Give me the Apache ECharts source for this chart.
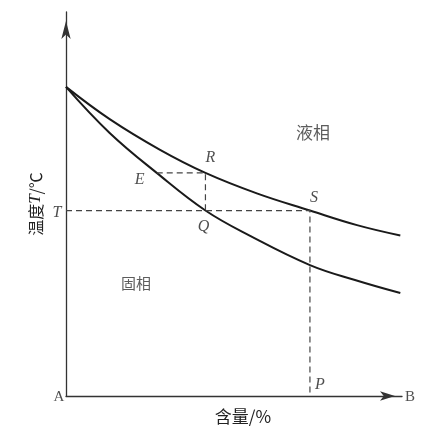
<!DOCTYPE html>
<html>
<head>
<meta charset="utf-8">
<script src="https://cdn.jsdelivr.net/npm/echarts@6/dist/echarts.min.js"></script>
<style>
  html, body { margin: 0; padding: 0; background: #fff; }
  #chart { width: 421px; height: 427px; }
</style>
</head>
<body>
<div id="chart"></div>
<script>
// curves (x: content 0-100, y: temperature 0-100)
const liquidus = [[0, 80.5], [13, 72.1], [28, 64.1], [41.5, 58.1], [57, 52.7], [72.6, 48.3], [86.6, 44.5], [99.5, 41.8]];
const solidus = [[0, 80.5], [13, 68.5], [27, 58.1], [41.5, 48.3], [54.8, 41.7], [72.6, 34.1], [86, 30.2], [99.5, 26.8]];

const T = 48.3;
const Sx = 72.6;
const Rx = 41.5;
const Ey = 58.1;
const Ex = 27;

// construction lines
const tLine = [[0, T], [Sx, T], [Sx, 0]];
const eLine = [[Ex, Ey], [Rx, Ey], [Rx, T]];

// point labels: [x, y, text, dx, dy]
const letterLabels = [
  [0, T, "T", -9, 2],
  [Ex, Ey, "E", -17, 7],
  [Rx, Ey, "R", 5, -15],
  [Rx, T, "Q", -2, 16],
  [Sx, T, "S", 4, -13],
  [Sx, 0, "P", 10, -11]
];
const cornerLabels = [
  [0, 0, "A", -7, 1],
  [100, 0, "B", 8, 1]
];
const regionLabels = [
  [73.5, 68.5, "液相", 17],
  [20.8, 29.4, "固相", 15]
];

const chart = echarts.init(document.getElementById("chart"), null, { renderer: "canvas" });

const serif = "'Liberation Serif', 'DejaVu Serif', serif";
const cjk = "'Noto Sans CJK SC', sans-serif";

function labelSeries(rows, style) {
  return {
    type: "scatter",
    symbolSize: 0,
    silent: true,
    z: 5,
    data: rows.map(r => ({
      value: [r[0], r[1]],
      label: {
        show: true,
        position: "inside",
        offset: [r[3], r[4]],
        formatter: r[2],
        ...style
      }
    }))
  };
}

chart.setOption({
  animation: false,
  backgroundColor: "#ffffff",
  grid: { left: 66, right: 19, top: 12, bottom: 31, containLabel: false, outerBoundsMode: "none" },
  xAxis: {
    type: "value",
    min: 0,
    max: 100,
    name: "含量/%",
    nameLocation: "middle",
    nameGap: 12,
    nameTextStyle: { fontFamily: cjk, fontSize: 17, color: "#222", padding: [0, 0, 0, 18] },
    axisLine: {
      show: true,
      symbol: ["none", "arrow"],
      symbolSize: [7, 15],
      symbolOffset: [0, -7],
      lineStyle: { color: "#333", width: 1.3 }
    },
    axisTick: { show: false },
    axisLabel: { show: false },
    splitLine: { show: false }
  },
  yAxis: {
    type: "value",
    min: 0,
    max: 100,
    name: "{a|温度}{i|T}{a|/℃}",
    nameLocation: "middle",
    nameGap: 22,
    nameRotate: 90,
    nameTextStyle: {
      color: "#222",
      rich: {
        a: { fontFamily: cjk, fontSize: 16, color: "#222" },
        i: { fontFamily: serif, fontStyle: "italic", fontSize: 17, color: "#222" }
      }
    },
    axisLine: {
      show: true,
      symbol: ["none", "arrow"],
      symbolSize: [7, 18],
      symbolOffset: [0, -9],
      lineStyle: { color: "#333", width: 1.3 }
    },
    axisTick: { show: false },
    axisLabel: { show: false },
    splitLine: { show: false }
  },
  series: [
    {
      type: "line",
      data: liquidus,
      smooth: 0.4,
      showSymbol: false,
      lineStyle: { color: "#1a1a1a", width: 2 }
    },
    {
      type: "line",
      data: solidus,
      smooth: 0.4,
      showSymbol: false,
      lineStyle: { color: "#1a1a1a", width: 2 }
    },
    {
      type: "line",
      data: tLine,
      showSymbol: false,
      lineStyle: { color: "#444", width: 1.2, type: [6, 4] }
    },
    {
      type: "line",
      data: eLine,
      showSymbol: false,
      lineStyle: { color: "#444", width: 1.2, type: [6, 4] }
    },
    labelSeries(letterLabels, { fontFamily: serif, fontStyle: "italic", fontSize: 16, color: "#222" }),
    labelSeries(cornerLabels, { fontFamily: serif, fontSize: 15, color: "#222" }),
    {
      type: "scatter",
      symbolSize: 0,
      silent: true,
      data: regionLabels.map(r => ({
        value: [r[0], r[1]],
        label: {
          show: true,
          position: "inside",
          formatter: r[2],
          fontFamily: cjk,
          fontSize: r[3],
          color: "#333"
        }
      }))
    }
  ]
});
</script>
</body>
</html>
